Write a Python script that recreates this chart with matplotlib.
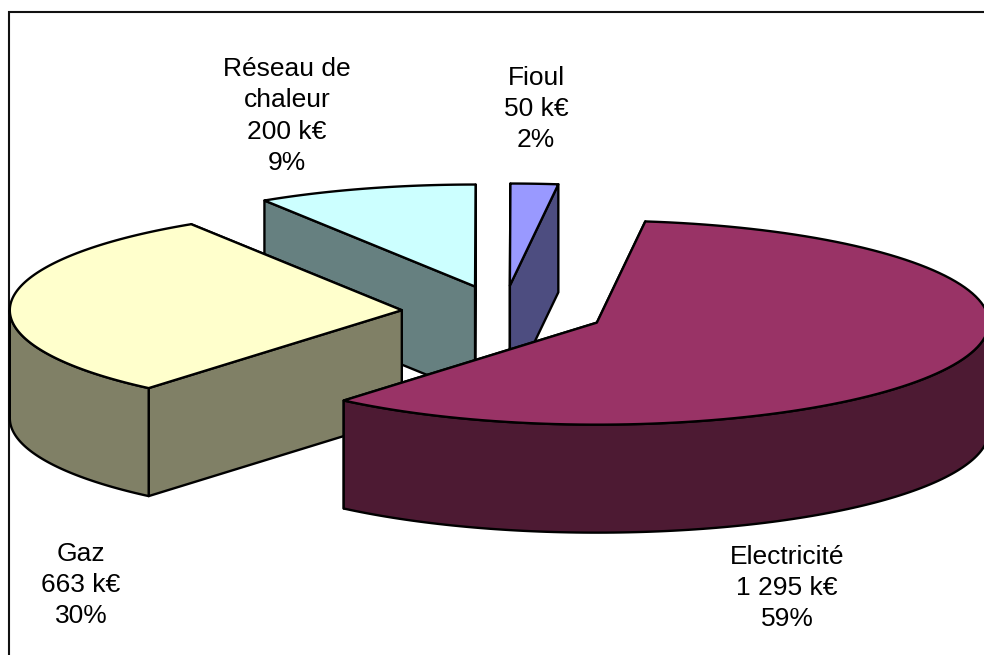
import matplotlib
matplotlib.use('Agg')
import matplotlib.pyplot as plt
from matplotlib.patches import Polygon, Rectangle
import numpy as np

labels = ['Electricité', 'Gaz', 'Réseau de\nchaleur', 'Fioul']
value_texts = ['1 295 k€', '663 k€', '200 k€', '50 k€']
pct_texts = ['59%', '30%', '9%', '2%']
# parts (%)
shares = [59.2, 29.8, 9.05, 1.95]
top_colors = ['#993366', '#FFFFCC', '#CCFFFF', '#9999FF']
wall_colors = ['#4D1A33', '#808066', '#668080', '#4D4D80']

# position des etiquettes (centre en px)
label_x = [787, 81, 287, 536]
label_y = [588, 585, 116, 109]

# geometrie de la "3D"
cx, cy = 503.5, 312
rx, ry = 392, 102
depth = 108
explode = 0.26
start = 82.9
lw = 1.7

plt.rcParams['font.family'] = ['Liberation Sans', 'DejaVu Sans']

fig = plt.figure(figsize=(9.84, 6.55), dpi=100)
ax = fig.add_axes([0, 0, 1, 1])
ax.set_xlim(0, 984)
ax.set_ylim(655, 0)
ax.axis('off')

ax.add_patch(Rectangle((9, 12), 1100, 800, fc='white', ec='#111111', lw=1.5, zorder=0))


def arc(x0, y0, t0, t1):
    t = np.radians(np.linspace(t0, t1, 120))
    return np.column_stack([x0 + rx * np.cos(t), y0 - ry * np.sin(t)])


angles = np.array(shares) / sum(shares) * 360
t_start = start - np.concatenate([[0], np.cumsum(angles)[:-1]])
t_end = t_start - angles

# ordre de dessin : de l'arriere vers l'avant
z = 1
for i in [2, 3, 1, 0]:
    t0, t1 = t_start[i], t_end[i]
    mid = np.radians((t0 + t1) / 2)
    x0 = cx + explode * rx * np.cos(mid)
    y0 = cy - explode * ry * np.sin(mid)
    tip = np.array([x0, y0])
    down = np.array([0, depth])

    # parois radiales
    ends = [arc(x0, y0, t0, t0)[0], arc(x0, y0, t1, t1)[0]]
    ends.sort(key=lambda p: p[1])
    for p in ends:
        ax.add_patch(Polygon([tip, p, p + down, tip + down], fc=wall_colors[i], ec='black',
                             lw=lw, joinstyle='round', zorder=z))
        z += 1

    # paroi exterieure (seulement la partie vers l'avant)
    a, b = max(t1, -180), min(t0, 0)
    if a < b:
        edge = arc(x0, y0, a, b)
        ax.add_patch(Polygon(np.vstack([edge, (edge + down)[::-1]]), fc=wall_colors[i], ec='black',
                             lw=lw, joinstyle='round', zorder=z))
        z += 1

    # dessus
    ax.add_patch(Polygon(np.vstack([tip, arc(x0, y0, t0, t1)]), fc=top_colors[i], ec='black',
                         lw=lw, joinstyle='round', zorder=z))
    z += 1

for i in range(4):
    ax.text(label_x[i], label_y[i], labels[i] + '\n' + value_texts[i] + '\n' + pct_texts[i],
            ha='center', va='center', fontsize=19, color='black', linespacing=1.38, zorder=50)

plt.savefig('out.png', dpi=100)
